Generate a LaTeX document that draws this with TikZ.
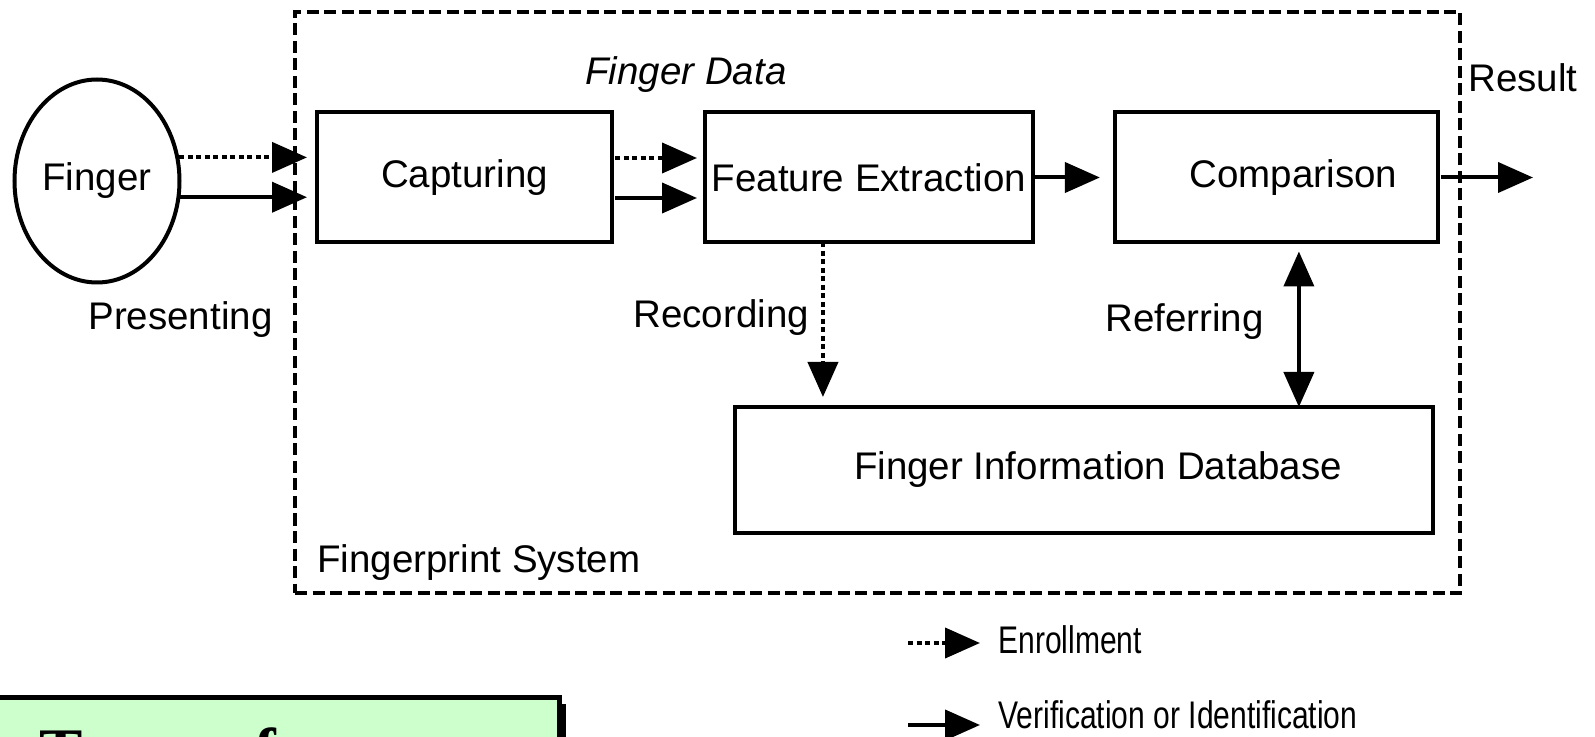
\documentclass[tikz,border=0pt]{standalone}
\usepackage{fontspec}
\setmainfont{Liberation Sans}
\newfontfamily\titleserif{Liberation Serif}
\usepackage{graphicx}
\usepackage{xcolor}
\usepackage{tikz}
\usetikzlibrary{positioning, arrows.meta, shapes.geometric, shadows}
\definecolor{palegreen}{HTML}{CCFFCC}
\newcommand{\sysfont}{\fontsize{19.25}{23}\selectfont}
\newcommand{\legendS}[1]{\scalebox{0.78}[1]{#1}}
\tikzset{
  box/.style={draw, line width=2pt, outer sep=0pt, minimum height=65pt},
  flow/.style={line width=2pt, -{Triangle[length=17.5pt, width=15pt]}},
  enr/.style={flow, dash pattern=on 2.5pt off 1.75pt},
  sysframe/.style={draw, line width=2pt, dash pattern=on 6pt off 2.75pt},
  lbl/.style={anchor=base west, inner sep=0pt}
}

\begin{document}
\begin{tikzpicture}[x=0.5pt, y=-0.5pt,
                    every node/.style={font=\sysfont}]
  \useasboundingbox (0,0) rectangle (1595,737);

  % system frame
  \node[sysframe, anchor=north west, minimum width=582.5pt,
        minimum height=290.5pt] (sys) at (293,10) {};
  \node[lbl] (sysname) at (317,572) {Fingerprint System};

  \node[draw, ellipse, line width=2pt, inner sep=0pt,
        minimum width=82.5pt, minimum height=101.5pt] (finger) at (97,181) {Finger};
  \node[box, minimum width=147.5pt] (cap) at (464.5,177.5) {Capturing};
  \node[box, right=46.5pt of cap, minimum width=160pt] (fe) {Feature Extraction};
  \node[box, right=41pt of fe, minimum width=161.5pt] (cmp) {\hspace*{17pt}Comparison};
  \node[box, minimum width=349pt, minimum height=63pt] (db) at (1084,470)
    {\hspace*{14pt}Finger Information Database};

  \node[lbl, font=\sysfont\itshape] (fdata) at (585,85) {Finger Data};
  \node[lbl] (present) at (88,330) {Presenting};
  \node[lbl] (record) at (633,328) {Recording};
  \node[lbl] (refer) at (1105,332) {Referring};
  \node[lbl] (result) at (1468,92) {Result};
  \coordinate (res) at (1533,177.5);

  \draw[enr, shorten >=5pt] (finger.16) -- (finger.16 -| cap.west);
  \draw[flow, shorten >=5pt] (finger.-11) -- (finger.-11 -| cap.west);
  \draw[enr, shorten <=1.5pt, shorten >=4pt] ([yshift=9.75pt]cap.east) -- ([yshift=9.75pt]fe.west);
  \draw[flow, shorten <=1.5pt, shorten >=4pt] ([yshift=-10.25pt]cap.east) -- ([yshift=-10.25pt]fe.west);
  \draw[flow, shorten >=7.5pt] (fe) -- (cmp);
  \draw[flow, shorten <=1.5pt] (cmp.east) -- (res);
  \coordinate (recTop) at ([xshift=-23pt]fe.south);
  \draw[enr, shorten >=5pt] (recTop) -- (recTop |- db.north);
  \coordinate (refTop) at ([xshift=11.25pt]cmp.south);
  \draw[flow, {Triangle[length=17.5pt, width=15pt]}-{Triangle[length=17.5pt, width=15pt]},
        shorten <=4.5pt] (refTop) -- (refTop |- db.north);

  % legend
  \coordinate (legE) at (908,643);
  \coordinate (legV) at (908,725);
  \node[lbl] (enroll) at (998,653) {\legendS{Enrollment}};
  \node[lbl] (verify) at (998,728) {\legendS{Verification or Identification}};
  \draw[enr, shorten >=9pt] (legE) -- (legE -| enroll.west);
  \draw[flow, shorten >=9pt] (legV) -- (legV -| verify.west);

  % title box, cut off by the page edge
  \node[draw, line width=2.5pt, fill=palegreen, anchor=north west, inner xsep=28.5pt,
        inner ysep=15pt, text width=231.5pt, align=left,
        font=\titleserif\bfseries\fontsize{32.5}{38}\selectfont,
        drop shadow={shadow xshift=3pt, shadow yshift=-3pt, fill=black, opacity=1}]
    (types) at (-20,695) {Types of};
\end{tikzpicture}
\end{document}
